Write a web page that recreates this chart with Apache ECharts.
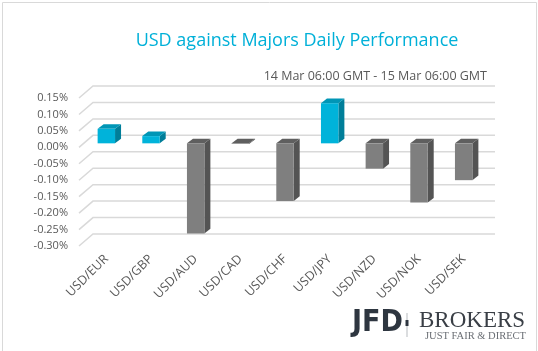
<!DOCTYPE html>
<html>
<head>
<meta charset="utf-8">
<script src="https://cdn.jsdelivr.net/npm/echarts@6/dist/echarts.min.js"></script>
<style>
html, body { margin: 0; padding: 0; background: #fff; }
#chart { width: 538px; height: 351px; }
</style>
</head>
<body>
<div id="chart"></div>
<script>
// USD vs majors, % change 14 Mar 06:00 -> 15 Mar 06:00 GMT
const categories = ['USD/EUR', 'USD/GBP', 'USD/AUD', 'USD/CAD', 'USD/CHF', 'USD/JPY', 'USD/NZD', 'USD/NOK', 'USD/SEK']
const performance = [0.044, 0.022, -0.274, -0.002, -0.175, 0.122, -0.077, -0.180, -0.112]
const yTicks = [0.15, 0.10, 0.05, 0.00, -0.05, -0.10, -0.15, -0.20, -0.25, -0.30]

const chart = echarts.init(document.getElementById('chart'))

// fake 3d: the back wall sits up-right of the bar plane, labels sit down-left
const BACK = [9, -8]
const FRONT = [-5, 4]
const SIDE = [6, -4.6]

function gridItem(params, api) {
	const cs = params.coordSys
	const t = api.value(1)
	const y = api.coord([0, t])[1]
	return {
		type: 'group',
		children: [
			{
				type: 'polyline',
				shape: {
					points: [
						[cs.x + FRONT[0], y + FRONT[1]],
						[cs.x + BACK[0], y + BACK[1]],
						[cs.x + cs.width + BACK[0], y + BACK[1]]
					]
				},
				style: { stroke: '#d9d9d9', lineWidth: 1.5, fill: null }
			},
			{
				type: 'text',
				x: cs.x - 16,
				y: y + 4,
				style: {
					text: t.toFixed(2) + '%',
					align: 'right',
					verticalAlign: 'middle',
					fill: '#595959',
					font: '11px "Open Sans"'
				}
			}
		]
	}
}

function barItem(params, api) {
	const v = api.value(1)
	const base = api.coord([api.value(0), 0])
	const end = api.coord([api.value(0), v])
	const w = api.size([1, 0])[0] * 0.39
	const x0 = base[0] - w / 2
	const x1 = base[0] + w / 2
	const yt = Math.min(base[1], end[1])
	const yb = Math.max(base[1], end[1])
	const pos = v >= 0
	const c = pos
		? { front: '#00b3da', side: '#007e99', top: '#0096b6' }
		: { front: '#7f7f7f', side: '#545454', top: '#5f5f5f' }
	return {
		type: 'group',
		children: [
			{
				type: 'polygon',
				shape: { points: [[x1, yt], [x1 + SIDE[0], yt + SIDE[1]], [x1 + SIDE[0], yb + SIDE[1]], [x1, yb]] },
				style: { fill: c.side }
			},
			{
				type: 'polygon',
				shape: { points: [[x0, yt], [x0 + SIDE[0], yt + SIDE[1]], [x1 + SIDE[0], yt + SIDE[1]], [x1, yt]] },
				style: { fill: c.top }
			},
			{
				type: 'rect',
				shape: { x: x0, y: yt, width: w, height: yb - yt },
				style: { fill: c.front }
			}
		]
	}
}

chart.setOption({
	animation: false,
	textStyle: { fontFamily: 'Open Sans' },
	title: [
		{
			text: 'USD against Majors Daily Performance',
			left: 292,
			top: 27,
			textAlign: 'center',
			textStyle: { color: '#00b0d8', fontSize: 18, fontWeight: 'normal', fontFamily: 'Open Sans' }
		},
		{
			text: '14 Mar 06:00 GMT - 15 Mar 06:00 GMT',
			right: 46,
			top: 65,
			textStyle: { color: '#595959', fontSize: 12.5, fontWeight: 'normal', fontFamily: 'Open Sans' }
		}
	],
	grid: { left: 84, right: 52, top: 94, bottom: 109 },
	xAxis: {
		type: 'category',
		data: categories,
		axisLine: { show: false },
		axisTick: { show: false },
		axisLabel: { rotate: 45, margin: 15, color: '#595959', fontSize: 12.5, interval: 0 }
	},
	yAxis: {
		type: 'value',
		min: -0.30,
		max: 0.15,
		interval: 0.05,
		axisLine: { show: false },
		axisTick: { show: false },
		splitLine: { show: false },
		axisLabel: { show: false }
	},
	series: [
		{
			type: 'custom',
			z: 1,
			renderItem: gridItem,
			data: yTicks.map(t => [0, t]),
			silent: true
		},
		{
			type: 'custom',
			z: 2,
			renderItem: barItem,
			data: performance.map((v, i) => [i, v])
		}
	],
	graphic: [
		{
			type: 'rect',
			shape: { x: 2.5, y: 2.5, width: 534, height: 360 },
			style: { fill: null, stroke: '#d9d9d9', lineWidth: 1 }
		},
		{
			type: 'text',
			left: 352,
			top: 308,
			style: { text: 'JFD', fill: '#2e3640', font: 'bold 30px "DejaVu Sans Condensed", "DejaVu Sans"' }
		},
		{
			type: 'rect',
			shape: { x: 406.5, y: 313, width: 1, height: 24 },
			style: { fill: '#b8bcc0' }
		},
		{
			type: 'rect',
			shape: { x: 405.5, y: 320, width: 3, height: 6 },
			style: { fill: '#2e3640' }
		},
		{
			type: 'text',
			left: 419,
			top: 309,
			style: { text: 'BROKERS', fill: '#3a3f46', font: '23px "Liberation Serif"' }
		},
		{
			type: 'text',
			left: 425,
			top: 331,
			style: { text: 'JUST FAIR & DIRECT', fill: '#6b6f75', font: '10.5px "Liberation Serif"' }
		}
	]
})
</script>
</body>
</html>
